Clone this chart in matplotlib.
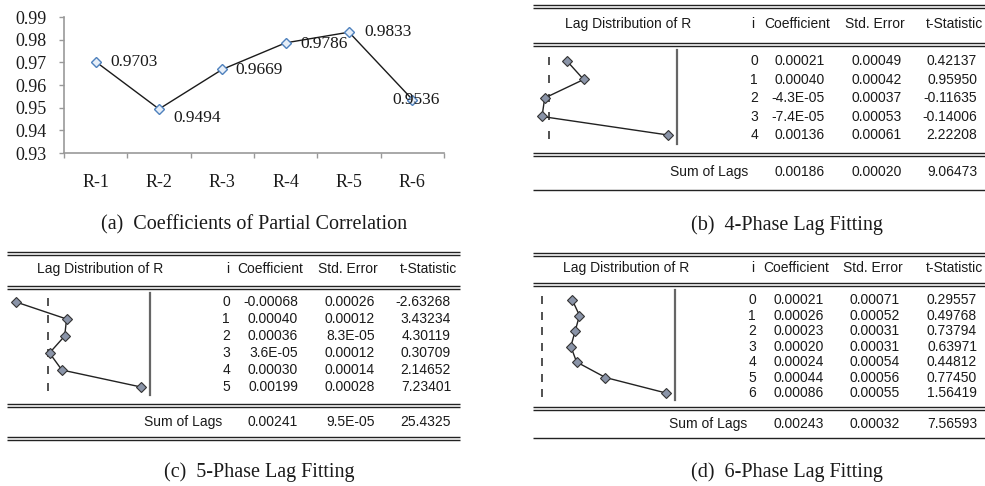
import numpy as np
import matplotlib
matplotlib.use("Agg")
import matplotlib.pyplot as plt

# (a) partial correlation
cats = ["R-1", "R-2", "R-3", "R-4", "R-5", "R-6"]
pcorr = [0.9703, 0.9494, 0.9669, 0.9786, 0.9833, 0.9536]

# lag tables: coefficient, std error, t-statistic
coef4 = [0.00021, 0.00040, -4.3e-05, -7.4e-05, 0.00136]
se4 = [0.00049, 0.00042, 0.00037, 0.00053, 0.00061]
t4 = [0.42137, 0.95950, -0.11635, -0.14006, 2.22208]
sum4 = [0.00186, 0.00020, 9.06473]

coef5 = [-0.00068, 0.00040, 0.00036, 3.6e-05, 0.00030, 0.00199]
se5 = [0.00026, 0.00012, 8.3e-05, 0.00012, 0.00014, 0.00028]
t5 = [-2.63268, 3.43234, 4.30119, 0.30709, 2.14652, 7.23401]
sum5 = [0.00241, 9.5e-05, 25.4325]

coef6 = [0.00021, 0.00026, 0.00023, 0.00020, 0.00024, 0.00044, 0.00086]
se6 = [0.00071, 0.00052, 0.00031, 0.00031, 0.00054, 0.00056, 0.00055]
t6 = [0.29557, 0.49768, 0.73794, 0.63971, 0.44812, 0.77450, 1.56419]
sum6 = [0.00243, 0.00032, 7.56593]

W, H = 985, 486
SERIF = "Liberation Serif"
SANS = "Liberation Sans"
TXT = "#1a1a1a"


def rect(l, t, r, b):
    return [l / W, 1 - b / H, (r - l) / W, (b - t) / H]


def fmt_num(v):
    if v != 0 and abs(v) < 1e-4:
        return "%.1E" % v
    return "%.5f" % v


def fmt_t(v):
    return "%.6g" % v if abs(v) >= 10 else "%.5f" % v


fig = plt.figure(figsize=(W / 100, H / 100), dpi=100)
ov = fig.add_axes([0, 0, 1, 1])
ov.set_xlim(0, W)
ov.set_ylim(H, 0)
ov.axis("off")

# ---- panel (a)
ax = fig.add_axes(rect(64, 17, 444, 153))
x = np.arange(len(cats))
ax.plot(x, pcorr, color="#1a1a1a", lw=1.0, marker="D", ms=5.5,
        mfc="#e6eef8", mec="#4f81bd", mew=1.0, clip_on=False)
offs = [(15, 0), (14, -9), (13, -1), (15, -1), (15, 0), (-20, 0)]
for xi, v, o in zip(x, pcorr, offs):
    ax.annotate("%.4f" % v, (xi, v), xytext=o, textcoords="offset pixels",
                ha="left", va="center", family=SERIF, fontsize=12.5, color=TXT)
ax.set_xlim(-0.5, len(cats) - 0.5)
ax.set_ylim(0.93, 0.99)
ax.set_yticks(np.arange(0.93, 0.9901, 0.01))
ax.set_yticklabels(["%.2f" % v for v in np.arange(0.93, 0.9901, 0.01)])
ax.set_xticks(np.arange(-0.5, len(cats), 1.0))
ax.set_xticklabels([])
ax.set_xticks(x, minor=True)
ax.set_xticklabels(cats, minor=True)
ax.tick_params(axis="x", which="minor", length=0, pad=15)
ax.tick_params(axis="both", which="major", length=3.5, color="#999999", width=1)
ax.tick_params(axis="y", pad=9)
for lab in ax.get_xticklabels(minor=True) + ax.get_yticklabels():
    lab.set_family(SERIF)
    lab.set_fontsize(13)
    lab.set_color(TXT)
for s in ["top", "right"]:
    ax.spines[s].set_visible(False)
for s in ["left", "bottom"]:
    ax.spines[s].set_color("#999999")
    ax.spines[s].set_linewidth(1.2)
ax.patch.set_alpha(0)


def hline(y, x0, x1):
    ov.plot([x0, x1], [y, y], color="#222222", lw=1.0, solid_capstyle="butt")


def table(coef, se, tstat, sums, g):
    left, right = g["left"], g["right"]
    for y in g["lines"]:
        hline(y, left, right)
    cx = g["cols"]
    hy = g["head_y"]
    kw = dict(family=SANS, fontsize=10, color=TXT, va="center")
    ov.text(g["lag_x"], hy, "Lag Distribution of R", ha="center", **kw)
    ov.text(g["hcols"][0], hy, "i", ha="right", **kw)
    ov.text(g["hcols"][1], hy, "Coefficient", ha="right", **kw)
    ov.text(g["hcols"][2], hy, "Std. Error", ha="right", **kw)
    ov.text(g["hcols"][3], hy, "t-Statistic", ha="right", **kw)
    n = len(coef)
    ys = np.linspace(g["row0"], g["rowN"], n)
    for i in range(n):
        ov.text(cx[0], ys[i], str(i), ha="right", **kw)
        ov.text(cx[1], ys[i], fmt_num(coef[i]), ha="right", **kw)
        ov.text(cx[2], ys[i], fmt_num(se[i]), ha="right", **kw)
        ov.text(cx[3], ys[i], fmt_t(tstat[i]), ha="right", **kw)
    sy = g["sum_y"]
    ov.text(g["sum_x"], sy, "Sum of Lags", ha="right", **kw)
    ov.text(cx[1], sy, fmt_num(sums[0]), ha="right", **kw)
    ov.text(cx[2], sy, fmt_num(sums[1]), ha="right", **kw)
    ov.text(cx[3], sy, fmt_t(sums[2]), ha="right", **kw)
    vx = g["vline"]
    ov.plot([vx, vx], g["vrange"], color="#666666", lw=1.6)
    # mini lag-distribution plot
    m = fig.add_axes(rect(left + 9, g["row0"], vx - 9, g["rowN"]))
    m.axis("off")
    lo = min(0.0, min(coef))
    hi = max(coef)
    m.set_xlim(lo, hi)
    m.set_ylim(n - 1, 0)
    m.plot([0] * n, range(n), ls="none", marker="|", ms=6, mew=1.2,
           color="#333333", clip_on=False)
    m.plot(coef, range(n), color="#222222", lw=1.0, marker="D", ms=4.8,
           mfc="#8a94a8", mec="#333333", mew=0.8, clip_on=False)


g4 = dict(left=533, right=985, lines=[5, 7.8, 43, 45.8, 153, 156, 190],
          head_y=24, lag_x=628, hcols=[754, 830, 905, 983],
          cols=[758, 825, 902, 977], row0=61, rowN=135,
          sum_y=172, sum_x=748, vline=677, vrange=[50, 144])
g5 = dict(left=7, right=460, lines=[252, 255, 286, 289, 404, 407, 437, 440],
          head_y=269, lag_x=100, hcols=[229, 303, 378, 457],
          cols=[230, 298, 375, 451], row0=302, rowN=387,
          sum_y=422, sum_x=222, vline=150, vrange=[293, 395])
g6 = dict(left=533, right=985, lines=[253, 255.8, 283, 285.8, 407, 410, 438],
          head_y=268, lag_x=626, hcols=[754, 829, 903, 983],
          cols=[756, 824, 900, 977], row0=300, rowN=393,
          sum_y=424, sum_x=747, vline=675, vrange=[290, 400])

table(coef4, se4, t4, sum4, g4)
table(coef5, se5, t5, sum5, g5)
table(coef6, se6, t6, sum6, g6)

cap = dict(family=SERIF, fontsize=14.5, color=TXT, ha="center", va="center")
ov.text(254, 225, "(a)  Coefficients of Partial Correlation", **cap)
ov.text(787, 225, "(b)  4-Phase Lag Fitting", **cap)
ov.text(259, 472, "(c)  5-Phase Lag Fitting", **cap)
ov.text(787, 472, "(d)  6-Phase Lag Fitting", **cap)

fig.savefig("out.png", dpi=100)
